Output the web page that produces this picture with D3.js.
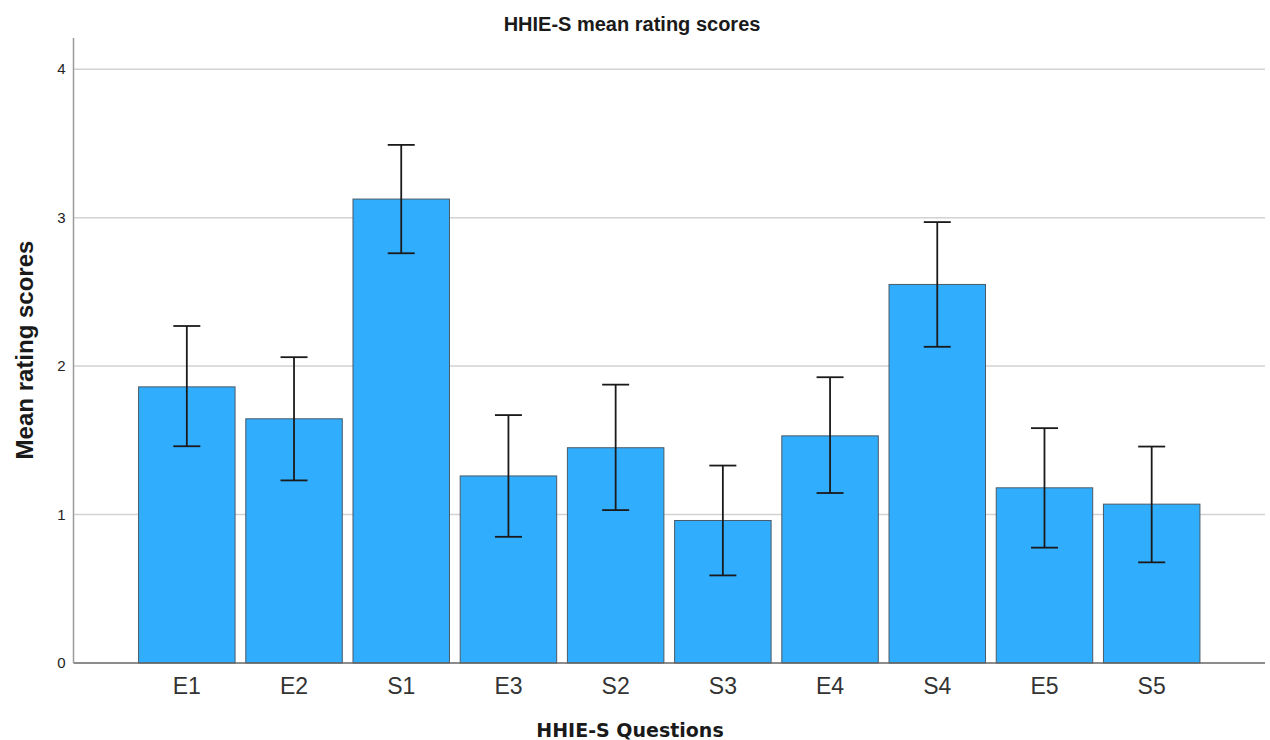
<!DOCTYPE html>
<html>
<head>
<meta charset="utf-8">
<script src="https://cdn.jsdelivr.net/npm/d3@7"></script>
<style>
  body { margin: 0; background: #fff; }
  svg { font-family: "Liberation Sans", Arial, sans-serif; }
</style>
</head>
<body>
<svg id="chart"></svg>
<script>
// Data
const questions = ["E1", "E2", "S1", "E3", "S2", "S3", "E4", "S4", "E5", "S5"];
const means = [1.86, 1.645, 3.125, 1.26, 1.45, 0.96, 1.53, 2.55, 1.18, 1.07];
const upper = [2.27, 2.06, 3.49, 1.67, 1.875, 1.33, 1.925, 2.97, 1.582, 1.458];
const lower = [1.46, 1.23, 2.76, 0.85, 1.03, 0.59, 1.145, 2.13, 0.777, 0.678];
const yTicks = [0, 1, 2, 3, 4];

const width = 1270;
const height = 740;
const margin = { top: 38, right: 5, bottom: 77, left: 73.5 };

const svg = d3.select("#chart")
    .attr("width", width)
    .attr("height", height);

const xScale = d3.scaleBand()
    .domain(questions)
    .range([margin.left, width - margin.right])
    .paddingInner(0.1)
    .paddingOuter(0.607);

const yScale = d3.scaleLinear()
    .domain([0, 4.21])
    .range([height - margin.bottom, margin.top]);

// Gridlines
svg.append("g")
    .selectAll("line")
    .data(yTicks.filter(d => d > 0))
    .enter()
    .append("line")
    .attr("x1", margin.left)
    .attr("x2", width - margin.right)
    .attr("y1", d => yScale(d))
    .attr("y2", d => yScale(d))
    .attr("stroke", "#d2d2d2")
    .attr("stroke-width", 1.5);

// Bars
svg.selectAll(".bar")
    .data(questions)
    .enter()
    .append("rect")
    .attr("class", "bar")
    .attr("x", d => xScale(d))
    .attr("y", (d, i) => yScale(means[i]))
    .attr("width", xScale.bandwidth())
    .attr("height", (d, i) => yScale(0) - yScale(means[i]))
    .attr("fill", "#31adfd")
    .attr("stroke", "#4a5a66")
    .attr("stroke-width", 1);

// Error bars
const capW = 27;
const err = svg.append("g")
    .selectAll("g")
    .data(questions)
    .enter()
    .append("g")
    .attr("stroke", "#1a1a1a")
    .attr("stroke-width", 1.8);

err.append("line")
    .attr("x1", d => xScale(d) + xScale.bandwidth() / 2)
    .attr("x2", d => xScale(d) + xScale.bandwidth() / 2)
    .attr("y1", (d, i) => yScale(upper[i]))
    .attr("y2", (d, i) => yScale(lower[i]));

err.append("line")
    .attr("x1", d => xScale(d) + xScale.bandwidth() / 2 - capW / 2)
    .attr("x2", d => xScale(d) + xScale.bandwidth() / 2 + capW / 2)
    .attr("y1", (d, i) => yScale(upper[i]))
    .attr("y2", (d, i) => yScale(upper[i]));

err.append("line")
    .attr("x1", d => xScale(d) + xScale.bandwidth() / 2 - capW / 2)
    .attr("x2", d => xScale(d) + xScale.bandwidth() / 2 + capW / 2)
    .attr("y1", (d, i) => yScale(lower[i]))
    .attr("y2", (d, i) => yScale(lower[i]));

// Axes
const xAxis = svg.append("g")
    .attr("transform", `translate(0, ${height - margin.bottom})`)
    .call(d3.axisBottom(xScale).tickSize(0).tickPadding(15));
xAxis.select(".domain").remove();
xAxis.selectAll("text")
    .attr("font-size", 23)
    .attr("fill", "#333")
    .attr("font-family", "'Liberation Sans', Arial, sans-serif");

svg.append("line")
    .attr("x1", margin.left)
    .attr("x2", width - margin.right)
    .attr("y1", yScale(0))
    .attr("y2", yScale(0))
    .attr("stroke", "#666")
    .attr("stroke-width", 1.5);

const yAxis = svg.append("g")
    .attr("transform", `translate(${margin.left}, 0)`)
    .call(d3.axisLeft(yScale).tickValues(yTicks).tickFormat(d3.format("d")).tickSize(0).tickPadding(8));
yAxis.select(".domain").remove();
yAxis.selectAll("text")
    .attr("font-size", 15)
    .attr("fill", "#222")
    .attr("font-family", "'Liberation Sans', Arial, sans-serif");

svg.append("line")
    .attr("x1", margin.left)
    .attr("x2", margin.left)
    .attr("y1", margin.top)
    .attr("y2", yScale(0))
    .attr("stroke", "#9a9a9a")
    .attr("stroke-width", 1.5);

// Titles
svg.append("text")
    .attr("x", 632)
    .attr("y", 31)
    .attr("text-anchor", "middle")
    .attr("font-size", 20)
    .attr("font-weight", "bold")
    .attr("fill", "#1a1a1a")
    .text("HHIE-S mean rating scores");

svg.append("text")
    .attr("x", 630)
    .attr("y", 737)
    .attr("text-anchor", "middle")
    .attr("font-family", "'DejaVu Sans', sans-serif")
    .attr("font-size", 19)
    .attr("font-weight", "bold")
    .attr("fill", "#1a1a1a")
    .text("HHIE-S Questions");

svg.append("text")
    .attr("transform", `translate(33, 350) rotate(-90)`)
    .attr("text-anchor", "middle")
    .attr("font-size", 24)
    .attr("font-weight", "bold")
    .attr("fill", "#1a1a1a")
    .text("Mean rating scores");
</script>
</body>
</html>
